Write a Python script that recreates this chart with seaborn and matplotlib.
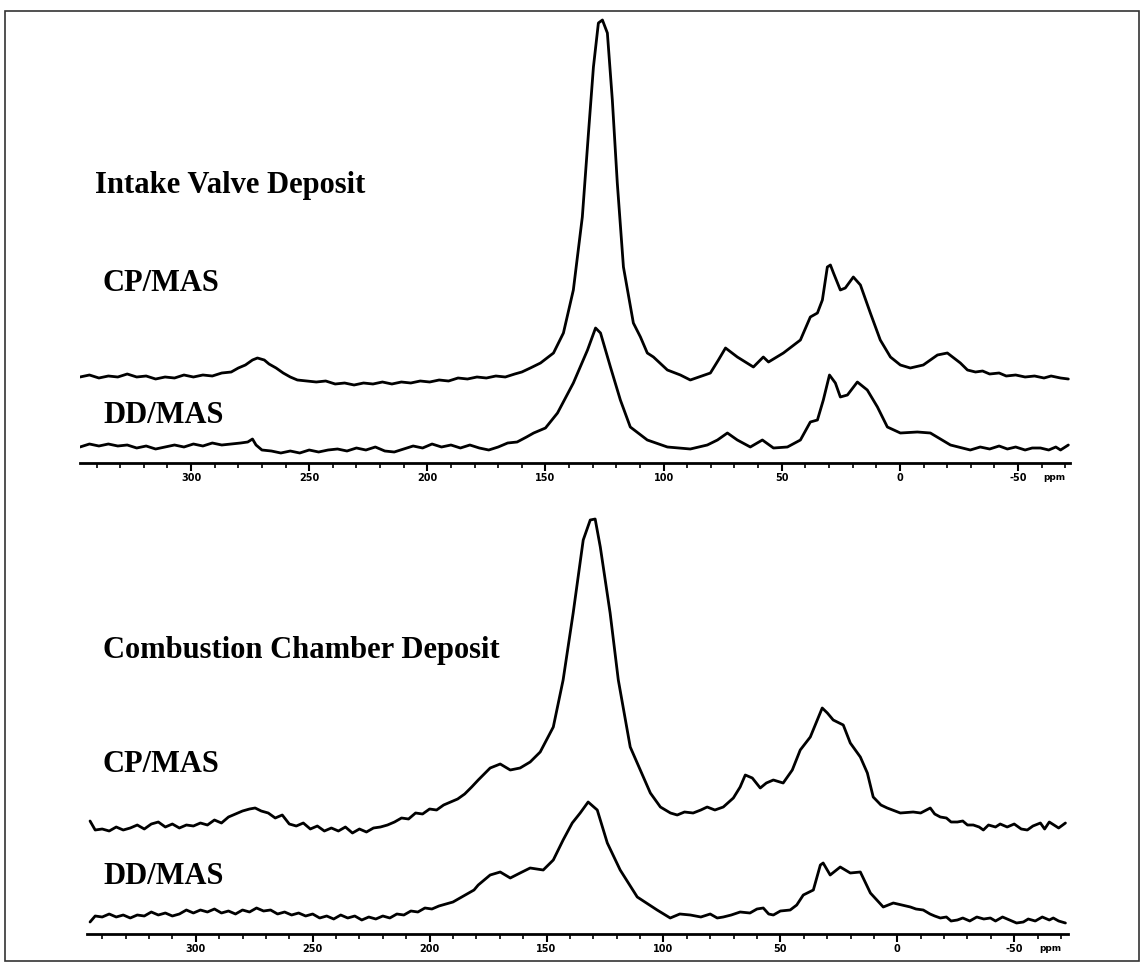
import numpy as np
import matplotlib
matplotlib.use("Agg")
import matplotlib.pyplot as plt
import seaborn as sns
from matplotlib.ticker import MultipleLocator
from matplotlib.patches import Rectangle

sns.set_style('white')
plt.rcParams['text.color'] = 'black'
plt.rcParams['xtick.color'] = 'black'

# 13C NMR spectra (ppm, intensity in a.u. above own baseline)
ivd_cp_ppm = [347, 343, 339, 335, 331, 327, 323, 319, 315, 311, 307, 303, 299, 295, 291, 287, 283,
              280, 277, 274, 271.9, 269, 267, 264, 261, 258, 255, 251, 247, 243, 239, 235, 231,
              227, 223, 219, 215, 211, 207, 203, 199, 195, 191, 187, 183, 179, 175, 171, 167, 163,
              160, 156.4, 152.1, 146.6,
              142.4, 138.2, 134.4, 131.8, 129.7, 127.6, 125.9, 123.8, 121.7, 119.6, 117.0, 112.8,
              109.8, 106.9, 104.3, 98.4, 92.9, 88.7, 80.2, 76.8, 73.8, 68.8, 62.0, 57.8, 55.6,
              49.3, 42.1, 37.9, 34.9, 32.8, 30.7, 29.4, 28.1, 25.2, 23.1, 19.7, 16.7, 12.5, 8.3,
              4.0, -0.2, -4.4, -9.9, -15.9, -20.1, -25.6, -28.6, -32, -35, -38, -42, -45, -49,
              -53, -57, -61, -64, -68, -71.3]
ivd_cp_int = [1, 3, 0, 2, 1, 4, 1, 2, -1, 1, 0, 3, 1, 3, 2, 5, 6,
              10, 13, 18, 20, 18, 14, 10, 5, 1, -2, -3, -4, -3, -6, -5, -7,
              -5, -6, -4, -6, -4, -5, -3, -4, -2, -3, 0, -1, 1, 0, 2, 1, 4,
              6, 10, 15, 25,
              45, 88, 161, 245, 311, 355, 358, 345, 278, 195, 111, 55,
              41, 25, 21, 8, 3, -2, 5, 18, 30, 21, 11, 21, 16,
              25, 38, 61, 65, 78, 111, 113, 105, 88, 90, 101, 93, 65, 38,
              21, 13, 10, 13, 23, 25, 15, 8, 6, 7, 4, 5, 2, 3,
              1, 2, 0, 2, 0, -1]

ivd_dd_ppm = [347, 343, 339, 335, 331, 327, 323, 319, 315, 311, 307, 303, 299, 295, 291, 287, 283,
              279, 276, 274, 272.5, 270, 266, 262, 258, 254, 250, 246, 242, 238, 234, 230, 226,
              222, 218, 214, 210, 206, 202, 198, 194, 190, 186, 182, 178, 174, 170, 166, 162, 158,
              155, 150.0, 144.9, 138.2, 132.2, 128.8,
              126.7, 122.5, 118.3, 114.1, 106.9, 98.4, 88.7, 81.5, 77.2, 73.0, 68.8, 63.3, 58.2,
              53.5, 47.6, 42.1, 37.9, 34.9, 32.4, 29.8, 27.3, 25.2, 22.2, 18.0, 13.8, 9.5, 5.3,
              -0.2, -7.4, -12.9, -21.4, -29.8, -34, -38, -42, -45.5, -49, -53, -56, -59.5, -63,
              -66, -68.0, -71.3]
ivd_dd_int = [0, 3, 1, 3, 1, 2, -1, 1, -2, 0, 2, 0, 3, 1, 4, 2, 3,
              4, 5, 8, 2, -3, -4, -6, -4, -6, -3, -5, -3, -2, -4, -1, -3,
              0, -4, -5, -2, 1, -1, 3, 0, 2, -1, 2, -1, -3, 0, 4, 5, 10,
              14, 19, 34, 64, 97, 119,
              114, 80, 47, 20, 7, 0, -2, 2, 7, 14, 7, 0, 7,
              -1, 0, 7, 25, 27, 47, 72, 64, 50, 52, 65, 57, 40, 20,
              14, 15, 14, 2, -3, 0, -2, 1, -2, 0, -3, -1, -1, -3,
              0, -3, 2]

ccd_cp_ppm = [345.2, 343, 340, 337, 334, 331, 328, 325, 322, 319, 316, 313, 310, 307, 304, 301,
              298, 295, 292, 289, 286, 283, 280, 277, 274.6, 272, 269, 266, 263, 260, 257, 254,
              251, 248, 245, 242, 239, 236, 233, 230, 227, 224, 221, 218, 215, 212, 209, 206, 203,
              200, 197, 194, 191, 188, 185, 182, 179.2, 174.1, 169.8, 165.5, 161.3, 157.0, 152.7,
              147.1, 142.9, 138.6, 134.3, 131.3, 129.2, 127.0, 122.8, 119.3, 114.2, 109.9, 105.6,
              101.3, 97, 94.1, 91, 87.3, 84, 81.3, 78, 74.4, 70.1, 67.2, 65.0, 62.0, 58.6, 56,
              53.0, 48.8, 44.9, 41.5, 37.2, 34.2, 32.1, 29.9, 27.4, 23.1, 20.1, 15.8, 12.8, 10.3,
              7, 4.3, -1.3, -6.8, -10, -14.1, -16, -18.4, -21, -23, -25.7, -28, -30, -32.5, -35,
              -36.8, -39, -42, -44, -47, -50, -53, -55.6, -58, -61.2, -63, -65, -67, -69, -71.9]
ccd_cp_int = [6, -3, -2, -4, 0, -3, -1, 2, -2, 3, 5, 0, 3, -1, 2, 1,
              4, 2, 7, 4, 10, 13, 16, 18, 19, 16, 14, 9, 12, 3, 1, 4,
              -2, 1, -4, -1, -4, 0, -6, -2, -5, -1, 0, 2, 5, 9, 8, 14, 13,
              18, 17, 22, 25, 28, 33, 40, 47, 59, 63, 57, 59, 65, 75,
              100, 147, 214, 287, 307, 308, 280, 214, 147, 80, 57, 34,
              20, 14, 12, 15, 14, 17, 20, 17, 20, 29, 40, 52, 49, 39, 44,
              47, 44, 57, 77, 90, 107, 119, 114, 107, 102, 84, 70, 54, 30,
              22, 19, 14, 15, 14, 19, 13, 10, 9, 5, 5, 6, 2, 2, 0,
              -3, 2, 0, 3, 0, 3, -2, -3, 1, 4, -2, 5, 2, -1, 4]

ccd_dd_ppm = [345.2, 343, 340, 337, 334, 331, 328, 325, 322, 319, 316, 313, 310, 307, 304, 301,
              298, 295, 292, 289, 286, 283, 280, 277, 274, 271, 268, 265, 262, 259, 256, 253,
              250, 247, 244, 241, 238, 235, 232, 229, 226, 223, 220, 217, 214, 211, 208, 205,
              202, 199, 196, 193, 190, 187, 184, 181, 179.2, 174.1, 169.8, 165.5, 161.3, 157.0,
              151.4, 147.1, 142.9, 139.0, 135.6, 132.2, 128.3, 124.0, 118.5, 111.2, 102.7, 97.1,
              93, 88.5, 84, 80, 77, 74.4, 71, 67.2, 63, 60, 57.3, 55, 53.0, 50, 45.8, 43, 40.2,
              35.9, 32.9, 31.7, 28.7, 24.4, 20.1, 15.8, 11.5, 6.0, 1.7, -5.6, -8, -11.1, -14, -16,
              -18.4, -21, -23, -25.7, -28, -31, -34, -37, -39.8, -42, -45, -48, -51, -53.9, -56,
              -59, -62, -65, -66.7, -69, -71.9]
ccd_dd_int = [-2, 4, 3, 6, 3, 5, 2, 5, 4, 8, 5, 7, 4, 6, 10, 7,
              10, 8, 11, 7, 9, 6, 10, 8, 12, 9, 10, 6, 8, 5, 7, 4,
              6, 2, 4, 1, 5, 2, 4, 0, 3, 1, 4, 2, 6, 5, 9, 8,
              12, 11, 14, 16, 18, 22, 26, 30, 35, 45, 48, 42, 47, 52,
              50, 60, 80, 97, 107, 118, 110, 77, 50, 23, 10, 2,
              6, 5, 3, 6, 2, 3, 5, 8, 7, 11, 12, 6, 5, 9, 10, 15, 25,
              30, 55, 57, 45, 53, 47, 48, 27, 13, 17, 13, 11, 10, 6, 4,
              2, 3, -1, 0, 2, -1, 3, 1, 2, -1, 3, 0, -3, -2, 1,
              -1, 3, 0, 2, -1, -3]

major_ticks = [300, 250, 200, 150, 100, 50, 0, -50]

W, H = 1140, 963
fig = plt.figure(figsize=(W / 100, H / 100), dpi=100)
fig.patch.set_facecolor('white')

# outer frame of the original figure
fig.patches.append(Rectangle((5 / W, 0.002), 1 - 6 / W, 1 - 11 / H - 0.002, transform=fig.transFigure,
                             fill=False, lw=1.2, ec='#333333'))


def px_axes(left, right, top, bottom):
    return fig.add_axes([left / W, 1 - bottom / H, (right - left) / W, (bottom - top) / H])


def style_axis(ax, xlim, height):
    ax.set_xlim(*xlim)
    ax.set_ylim(0, height)
    for s in ['left', 'right', 'top']:
        ax.spines[s].set_visible(False)
    ax.spines['bottom'].set_linewidth(2.0)
    ax.spines['bottom'].set_color('black')
    ax.set_yticks([])
    ax.set_xticks(major_ticks)
    ax.set_xticklabels([str(t) for t in major_ticks], fontweight='bold', fontsize=7)
    ax.xaxis.set_minor_locator(MultipleLocator(10))
    ax.tick_params(axis='x', which='major', direction='out', length=5.5, width=1.5,
                   pad=2, bottom=True, colors='black')
    ax.tick_params(axis='x', which='minor', direction='out', length=3.5, width=1.2, bottom=True,
                   colors='black')
    ax.set_xlabel('')
    ax.set_ylabel('')
    ax.annotate('ppm', xy=(-65.5, 0), xycoords=('data', 'axes fraction'), xytext=(0, -7.5),
                textcoords='offset points', ha='center', va='top', fontsize=6.5,
                fontweight='bold', color='black')


def draw(ax, ppm, inten, offset):
    sns.lineplot(x=ppm, y=np.array(inten) + offset, ax=ax, color='black', lw=2.0,
                 sort=False, estimator=None)


# top panel: intake valve deposit
ax1 = px_axes(80, 1070, 12, 463)
draw(ax1, ivd_cp_ppm, ivd_cp_int, 85)
draw(ax1, ivd_dd_ppm, ivd_dd_int, 16)
style_axis(ax1, (347, -72), 451)

# bottom panel: combustion chamber deposit
ax2 = px_axes(87, 1068, 485, 934)
draw(ax2, ccd_cp_ppm, ccd_cp_int, 107)
draw(ax2, ccd_dd_ppm, ccd_dd_int, 14)
style_axis(ax2, (346.5, -73), 449)

labels = [('Intake Valve Deposit', 95, 193),
          ('CP/MAS', 103, 291),
          ('DD/MAS', 103, 423),
          ('Combustion Chamber Deposit', 103, 658),
          ('CP/MAS', 103, 772),
          ('DD/MAS', 103, 884)]
for txt, x, y in labels:
    fig.text(x / W, 1 - y / H, txt, fontsize=22, fontweight='bold', family='Liberation Serif',
             ha='left', va='baseline', color='black')

fig.savefig('out.png', dpi=100, facecolor='white')
